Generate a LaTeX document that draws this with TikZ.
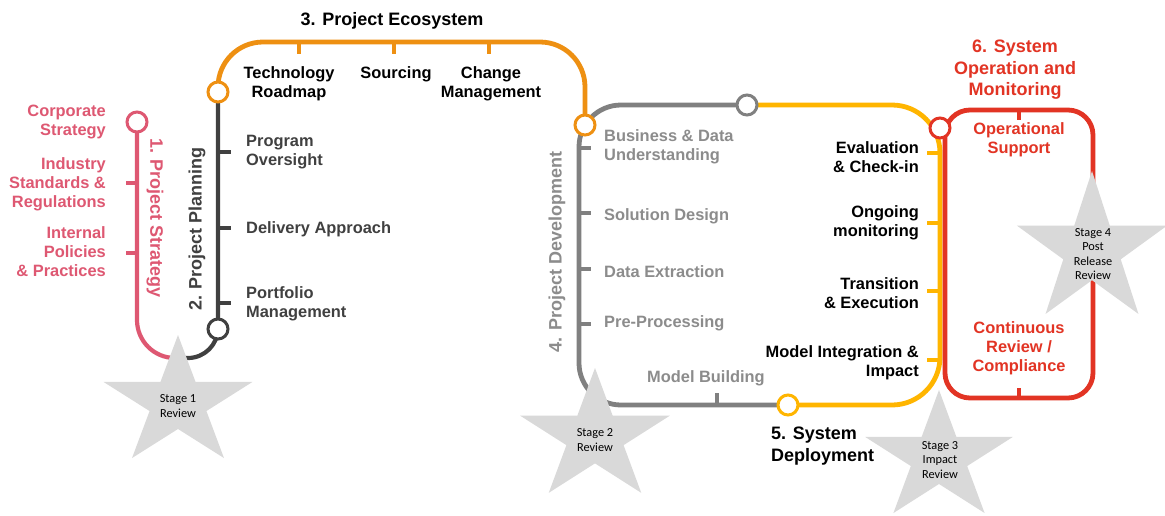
\documentclass[tikz,border=0pt]{standalone}
\usepackage{fontspec}
\setmainfont{Liberation Sans}
\newfontfamily\starfont{Carlito}
\usetikzlibrary{shapes.geometric,backgrounds,positioning}

\definecolor{stratpink}{RGB}{222,88,114}
\definecolor{plandark}{RGB}{64,64,64}
\definecolor{ecoorange}{RGB}{238,144,18}
\definecolor{devgray}{RGB}{128,128,128}
\definecolor{devtext}{RGB}{140,140,140}
\definecolor{depyellow}{RGB}{255,181,0}
\definecolor{opred}{RGB}{226,52,36}
\definecolor{stargray}{RGB}{217,217,217}

\tikzset{
  track/.style={line width=4.8pt},
  thintrack/.style={line width=4.2pt},
  stop/.style={circle, draw=#1, fill=white, line width=3pt, minimum size=20pt, inner sep=0pt},
  item/.style={font=\bfseries\fontsize{16.4}{19}\selectfont, inner sep=0pt},
  heading/.style={font=\bfseries\fontsize{18}{21.5}\selectfont, inner sep=0pt},
  stagestar/.style={star, star points=5, star point ratio=2.618, fill=stargray, inner sep=0pt, minimum size=#1, transform shape},
  stagetext/.style={font=\starfont\fontsize{12.3}{14.6}\selectfont, align=center, inner sep=0pt},
}

\begin{document}
\begin{tikzpicture}[x=1pt, y=-1pt]  % one unit is one pixel of the original

\useasboundingbox (0,0) rectangle (1165,515);

% Stops
\node[stop=stratpink] (strat) at (137,122) {};
\node[stop=plandark] (plan) at (218,329) {};
\node[stop=ecoorange] (ecoL) at (218,92) {};
\node[stop=ecoorange] (ecoR) at (585,125) {};
\node[stop=devgray] (devdep) at (747,105) {};
\node[stop=depyellow] (dep) at (788,405) {};
\node[stop=opred] (op) at (940,128) {};

% Corners of the lines
\coordinate (meet1) at (178,358);
\coordinate (ecotop) at (392,42);
\coordinate (devBL) at (579,405);
\coordinate (depBR) at (940,405);

\begin{scope}[on background layer]
  \fill[white] (0,0) rectangle (1165,515);

  % Lines
  \draw[thintrack, stratpink, rounded corners=38pt] (strat.center) |- (meet1);
  \draw[thintrack, plandark, rounded corners=30pt] (meet1) -| (ecoL.center);
  \draw[track, ecoorange, rounded corners=45pt] (ecoL.center) -- (ecoL |- ecotop) -- (ecoR |- ecotop) -- (ecoR.center);
  \draw[track, devgray, rounded corners=42pt] (devdep.center) -| (devBL) -- (dep.center);
  \draw[track, depyellow, rounded corners=48pt] (devdep.center) -| (depBR) -- (dep.center);
  \draw[track, opred, rounded corners=25pt] (945,110) rectangle (1093,398);

  % Ticks
  \draw[thintrack, stratpink] (137,183) -- (126,183);
  \draw[thintrack, stratpink] (137,253) -- (126,253);
  \draw[thintrack, plandark] (218,152) -- (231,152);
  \draw[thintrack, plandark] (218,228) -- (231,228);
  \draw[thintrack, plandark] (218,303) -- (231,303);
  \draw[thintrack, ecoorange] (299,42) -- (299,54);
  \draw[thintrack, ecoorange] (394,42) -- (394,54);
  \draw[thintrack, ecoorange] (489,42) -- (489,54);
  \draw[thintrack, devgray] (579,148) -- (591,148);
  \draw[thintrack, devgray] (579,213) -- (591,213);
  \draw[thintrack, devgray] (579,269) -- (591,269);
  \draw[thintrack, devgray] (579,324) -- (591,324);
  \draw[thintrack, devgray] (717,405) -- (717,393);
  \draw[thintrack, depyellow] (940,153) -- (927,153);
  \draw[thintrack, depyellow] (940,223) -- (927,223);
  \draw[thintrack, depyellow] (940,291) -- (927,291);
  \draw[thintrack, depyellow] (940,360) -- (927,360);
  \draw[thintrack, opred] (1019,110) -- (1019,120);
  \draw[thintrack, opred] (1019,398) -- (1019,388);
\end{scope}

% Review stars
\node[stagestar=136pt, xscale=1.15] (stage1) at (178,403) {};
\node[stagestar=138pt, xscale=1.14] (stage2) at (595,437) {};
\node[stagestar=136pt, xscale=1.14] (stage3) at (939,458) {};
\node[stagestar=158pt] (stage4) at (1092,250) {};
\node[stagetext] (stage1txt) at (178,406) {Stage 1\\Review};
\node[stagetext] (stage2txt) at (595,440) {Stage 2\\Review};
\node[stagetext] (stage3txt) at (940,460) {Stage 3\\Impact\\Review};
\node[stagetext] (stage4txt) at (1093,254) {Stage 4\\Post\\Release\\Review};

% Project Strategy
\node[heading, text=stratpink, rotate=-90] (stratname) at (155,218) {1. Project Strategy};
\node[item, text=stratpink, align=right, anchor=east] (corporate) at (106,122) {Corporate\\Strategy};
\node[item, text=stratpink, align=right, anchor=east] (standards) at (106,184) {Industry\\Standards \&\\Regulations};
\node[item, text=stratpink, align=right, anchor=east] (policies) at (106,252) {Internal\\Policies\\\& Practices};

% Project Planning
\node[heading, text=plandark, rotate=90] (planname) at (197,229) {2. Project Planning};
\node[item, text=plandark, align=left, anchor=west] (oversight) at (246,152) {Program\\Oversight};
\node[item, text=plandark, anchor=west] (delivery) at (246,229) {Delivery Approach};
\node[item, text=plandark, align=left, anchor=west] (portfolio) at (246,304) {Portfolio\\Management};

% Project Ecosystem
\node[heading] (econame) at (392,21) {3. Project Ecosystem};
\node[item, align=center, anchor=north] (roadmap) at (289,66) {Technology\\Roadmap};
\node[item, anchor=north] (sourcing) at (396,66) {Sourcing};
\node[item, align=center, anchor=north] (change) at (491,66) {Change\\Management};

% Project Development
\node[heading, text=devtext, rotate=90] (devname) at (557,252) {4. Project Development};
\node[item, text=devtext, align=left, anchor=west] (business) at (604,147) {Business \& Data\\Understanding};
\node[item, text=devtext, anchor=west] (design) at (604,216) {Solution Design};
\node[item, text=devtext, anchor=west] (extraction) at (604,272) {Data Extraction};
\node[item, text=devtext, anchor=west] (preproc) at (604,323) {Pre-Processing};
\node[item, text=devtext, anchor=west] (building) at (647,378) {Model Building};

% System Deployment
\node[heading, align=left, anchor=west] (depname) at (771,446) {5. System\\Deployment};
\node[item, align=right, anchor=east] (evaluation) at (919,157) {Evaluation\\\& Check-in};
\node[item, align=right, anchor=east] (ongoing) at (919,223) {Ongoing\\monitoring};
\node[item, align=right, anchor=east] (transition) at (919,293) {Transition\\\& Execution};
\node[item, align=right, anchor=east] (integration) at (919,363) {Model Integration \&\\Impact};

% System Operation and Monitoring
\node[heading, text=opred, align=center] (opname) at (1015,70) {6. System\\Operation and\\Monitoring};
\node[item, text=opred, align=center] (support) at (1019,140) {Operational\\Support};
\node[item, text=opred, align=center] (compliance) at (1019,348) {Continuous\\Review /\\Compliance};

\end{tikzpicture}
\end{document}
